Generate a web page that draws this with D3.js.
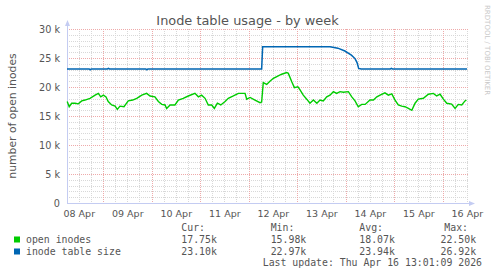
<!DOCTYPE html>
<html>
<head>
<meta charset="utf-8">
<script src="https://cdn.jsdelivr.net/npm/d3@7"></script>
<style>
   body { margin: 0; background: #fff; }
   svg { display: block; }
   text { fill: #555; }
</style>
</head>
<body>
<svg id="chart" width="497" height="276"></svg>
<script>
// week window shown by the graph
const rangeStart = new Date( 2026, 3, 8, 6, 11 );
const rangeHours = 197.9;

// open inodes (k), hours after rangeStart
const openHours = [
   0.1, 1.1, 2.3, 4.0, 5.6, 7.3, 8.9, 11.4, 13.9, 15.5, 16.7, 18.0, 19.3, 20.4, 22.1, 23.8, 24.9, 26.2, 28.2,
   30.3, 32.5, 34.5, 37.0, 39.4, 41.1, 43.5, 45.2, 46.9, 48.5, 49.3, 51.0, 53.4, 55.1, 57.5, 60.0, 63.3, 65.0,
   66.6, 68.3, 69.9, 71.6, 72.9, 74.4, 76.1, 78.2, 79.8, 82.3, 84.8, 88.1, 88.9, 90.6, 93.0, 95.5, 96.3, 97.1,
   98.8, 100.4, 102.1, 103.8, 106.2, 108.7, 109.5, 111.2, 112.5, 114.2, 115.3, 116.9, 118.6, 120.2, 121.9,
   123.6, 125.2, 126.8, 128.5, 130.1, 131.8, 133.4, 135.1, 136.7, 139.2, 140.9, 142.5, 144.1, 145.8, 147.5,
   149.9, 151.6, 153.3, 154.9, 157.3, 159.0, 160.7, 162.3, 163.9, 165.6, 167.2, 168.9, 170.6, 172.2, 173.8,
   176.3, 178.8, 181.3, 182.9, 184.6, 186.2, 187.9, 190.3, 192.0, 193.6, 195.3, 196.9, 197.6
];
const openValues = [
   17.5, 16.6, 17.2, 17.2, 17.1, 17.6, 17.75, 18.05, 18.6, 18.9, 18.3, 18.6, 18.3, 17.5, 16.9, 16.7, 16.15, 16.7, 16.6,
   17.6, 17.75, 18.05, 18.6, 18.9, 18.45, 18.3, 17.5, 17.0, 16.9, 16.3, 16.9, 16.9, 17.75, 18.05, 18.45, 18.9, 18.3,
   18.6, 18.05, 16.9, 16.9, 16.3, 17.2, 16.9, 17.5, 18.05, 18.45, 18.9, 18.9, 17.9, 18.2, 17.75, 17.3, 17.4, 20.75,
   20.45, 21.0, 21.5, 21.8, 22.2, 22.5, 22.35, 20.9, 19.9, 20.05, 19.5, 18.6, 17.9, 17.2, 17.75,
   17.2, 17.75, 17.6, 18.3, 18.6, 19.2, 18.9, 19.2, 19.1, 19.2, 18.3, 17.6, 16.6, 17.0, 17.0,
   17.75, 17.75, 18.3, 18.6, 19.0, 18.6, 18.8, 17.75, 16.9, 16.7, 16.6, 16.3, 15.98, 17.2, 17.9,
   18.05, 18.75, 18.9, 18.45, 18.75, 17.9, 17.2, 17.05, 16.3, 17.0, 16.9, 17.6, 17.75
];

// inode table size (k)
const sizeHours = [
   0, 11.0, 11.5, 12.0, 20.0, 20.5, 21.0, 39.0, 39.5, 40.0, 96.3, 96.8, 130.1, 134.0, 137.5, 140.7, 142.5,
   143.5, 144.3, 145.5, 160.0, 160.5, 161.0, 197.9
];
const sizeValues = [
   23.1, 23.1, 22.97, 23.1, 23.1, 23.2, 23.1, 23.1, 22.97, 23.1, 23.1, 26.92, 26.92, 26.7, 26.2, 25.5, 24.9,
   24.2, 23.2, 23.1, 23.1, 23.2, 23.1, 23.1
];

const yTicks = [ 0, 5, 10, 15, 20, 25, 30 ];
const dayLabels = [ '08 Apr', '09 Apr', '10 Apr', '11 Apr', '12 Apr', '13 Apr', '14 Apr', '15 Apr', '16 Apr' ];

const legendRows = [
   { name: 'open inodes', color: '#00cc00', cur: '17.75k', min: '15.98k', avg: '18.07k', max: '22.50k' },
   { name: 'inode table size', color: '#0066b3', cur: '23.10k', min: '22.97k', avg: '23.94k', max: '26.92k' }
];

///////////////////////////////////////////////////////////////////////////////////////////////////////////////////////

const HOUR = 3600 * 1000;
const svg = d3.select( '#chart' );
const plot = { left: 67, right: 467, top: 29, bottom: 203 };

const x = d3.scaleTime()
   .domain( [ rangeStart, new Date( +rangeStart + rangeHours * HOUR ) ] )
   .range( [ plot.left, plot.right ] );
const y = d3.scaleLinear().domain( [ 0, 30 ] ).range( [ plot.bottom, plot.top ] );

const grid = svg.append( 'g' ).attr( 'shape-rendering', 'crispEdges' );
const sixHours = d3.timeHour.every( 6 ).range( x.domain()[ 0 ], x.domain()[ 1 ] );
const minorY = d3.range( 1, 31 ).filter( v => v % 5 !== 0 );

grid.selectAll( '.hminor' ).data( minorY ).join( 'line' )
   .attr( 'x1', plot.left ).attr( 'x2', plot.right + 1 )
   .attr( 'y1', d => Math.round( y( d ) ) + 0.5 ).attr( 'y2', d => Math.round( y( d ) ) + 0.5 )
   .attr( 'stroke', '#d8d8d8' ).attr( 'stroke-dasharray', '1,1' );
grid.selectAll( '.vminor' ).data( sixHours.filter( d => d.getHours() !== 0 ) ).join( 'line' )
   .attr( 'x1', d => Math.round( x( d ) ) + 0.5 ).attr( 'x2', d => Math.round( x( d ) ) + 0.5 )
   .attr( 'y1', plot.top ).attr( 'y2', plot.bottom )
   .attr( 'stroke', '#d8d8d8' ).attr( 'stroke-dasharray', '1,1' );
grid.selectAll( '.hmajor' ).data( yTicks.slice( 1 ) ).join( 'line' )
   .attr( 'x1', plot.left ).attr( 'x2', plot.right + 1 )
   .attr( 'y1', d => Math.round( y( d ) ) + 0.5 ).attr( 'y2', d => Math.round( y( d ) ) + 0.5 )
   .attr( 'stroke', '#eeaaaa' ).attr( 'stroke-dasharray', '1,1' );
grid.selectAll( '.vmajor' ).data( sixHours.filter( d => d.getHours() === 0 ) ).join( 'line' )
   .attr( 'x1', d => Math.round( x( d ) ) + 0.5 ).attr( 'x2', d => Math.round( x( d ) ) + 0.5 )
   .attr( 'y1', plot.top ).attr( 'y2', plot.bottom + 2 )
   .attr( 'stroke', '#eeaaaa' ).attr( 'stroke-dasharray', '1,1' );

// axes
const axisColor = '#c4ccf2';
svg.append( 'line' )
   .attr( 'x1', plot.left + 0.5 ).attr( 'x2', plot.left + 0.5 )
   .attr( 'y1', plot.bottom ).attr( 'y2', plot.top - 4 )
   .attr( 'stroke', axisColor );
svg.append( 'path' )
   .attr( 'd', `M${ plot.left - 2 },${ plot.top - 3 }L${ plot.left + 3 },${ plot.top - 3 }L${ plot.left + 0.5 },${ plot.top - 9 }Z` )
   .attr( 'fill', axisColor );
svg.append( 'line' )
   .attr( 'x1', plot.left ).attr( 'x2', plot.right + 3 )
   .attr( 'y1', plot.bottom + 0.5 ).attr( 'y2', plot.bottom + 0.5 )
   .attr( 'stroke', axisColor );
svg.append( 'path' )
   .attr( 'd', `M${ plot.right + 2 },${ plot.bottom - 2 }L${ plot.right + 2 },${ plot.bottom + 3 }L${ plot.right + 8 },${ plot.bottom + 0.5 }Z` )
   .attr( 'fill', axisColor );

const yAxis = svg.append( 'g' )
   .attr( 'transform', `translate(${ plot.left },0)` )
   .call( d3.axisLeft( y ).tickValues( yTicks ).tickSize( 0 ).tickPadding( 7 )
      .tickFormat( d => d === 0 ? '0' : `${ d } k` ) );
yAxis.select( '.domain' ).remove();
yAxis.selectAll( 'text' )
   .attr( 'font-family', 'DejaVu Sans' ).attr( 'font-size', '9.7px' ).attr( 'fill', '#555' );

const noons = dayLabels.map( ( label, i ) => new Date( 2026, 3, 8 + i, 12 ) );
const xAxis = svg.append( 'g' )
   .attr( 'transform', `translate(0,${ plot.bottom })` )
   .call( d3.axisBottom( x ).tickValues( noons ).tickSize( 0 ).tickPadding( 7 )
      .tickFormat( ( d, i ) => dayLabels[ i ] ) );
xAxis.select( '.domain' ).remove();
xAxis.selectAll( 'text' )
   .attr( 'font-family', 'DejaVu Sans' ).attr( 'font-size', '9.5px' ).attr( 'fill', '#555' );

// series
const line = d3.line().x( d => x( d[ 0 ] ) ).y( d => y( d[ 1 ] ) );
const toPoints = ( hours, values ) => hours.map( ( h, i ) => [ new Date( +rangeStart + h * HOUR ), values[ i ] ] );

svg.append( 'path' )
   .datum( toPoints( sizeHours, sizeValues ) )
   .attr( 'd', line ).attr( 'fill', 'none' )
   .attr( 'stroke', '#0066b3' ).attr( 'stroke-width', 1.5 );
svg.append( 'path' )
   .datum( toPoints( openHours, openValues ) )
   .attr( 'd', line ).attr( 'fill', 'none' )
   .attr( 'stroke', '#00cc00' ).attr( 'stroke-width', 1.4 );

// titles
svg.append( 'text' )
   .attr( 'x', 247.5 ).attr( 'y', 25 ).attr( 'text-anchor', 'middle' )
   .attr( 'font-family', 'DejaVu Sans' ).attr( 'font-size', '12.9px' )
   .text( 'Inode table usage - by week' );
svg.append( 'text' )
   .attr( 'transform', `translate(15.5,${ ( plot.top + plot.bottom ) / 2 }) rotate(-90)` )
   .attr( 'text-anchor', 'middle' )
   .attr( 'font-family', 'DejaVu Sans' ).attr( 'font-size', '10.8px' )
   .text( 'number of open inodes' );
svg.append( 'text' )
   .attr( 'transform', 'translate(485,5) rotate(90)' )
   .attr( 'font-family', 'DejaVu Sans' ).attr( 'font-size', '7px' )
   .style( 'fill', '#c8c8c8' )
   .text( 'RRDTOOL / TOBI OETIKER' );

// legend
const legend = svg.append( 'g' )
   .attr( 'font-family', 'DejaVu Sans Mono' ).attr( 'font-size', '9.85px' );
const columns = [
   { key: 'cur', head: 'Cur:', x: 181.3, hx: 181.3 },
   { key: 'min', head: 'Min:', x: 270.7, hx: 270.7 },
   { key: 'avg', head: 'Avg:', x: 359.3, hx: 359.3 },
   { key: 'max', head: 'Max:', x: 440.5, hx: 444.3 }
];
columns.forEach( c => legend.append( 'text' ).attr( 'x', c.hx ).attr( 'y', 231 ).text( c.head ) );
legendRows.forEach( ( row, i ) => {
   const baseline = 243 + i * 12;
   legend.append( 'rect' )
      .attr( 'x', 14 ).attr( 'y', baseline - 6.5 ).attr( 'width', 6 ).attr( 'height', 6 )
      .attr( 'fill', row.color );
   legend.append( 'text' ).attr( 'x', 26 ).attr( 'y', baseline ).text( row.name );
   columns.forEach( c => legend.append( 'text' ).attr( 'x', c.x ).attr( 'y', baseline ).text( row[ c.key ] ) );
} );
legend.append( 'text' )
   .attr( 'x', 482 ).attr( 'y', 266 ).attr( 'text-anchor', 'end' )
   .text( 'Last update: Thu Apr 16 13:01:09 2026' );
</script>
</body>
</html>
